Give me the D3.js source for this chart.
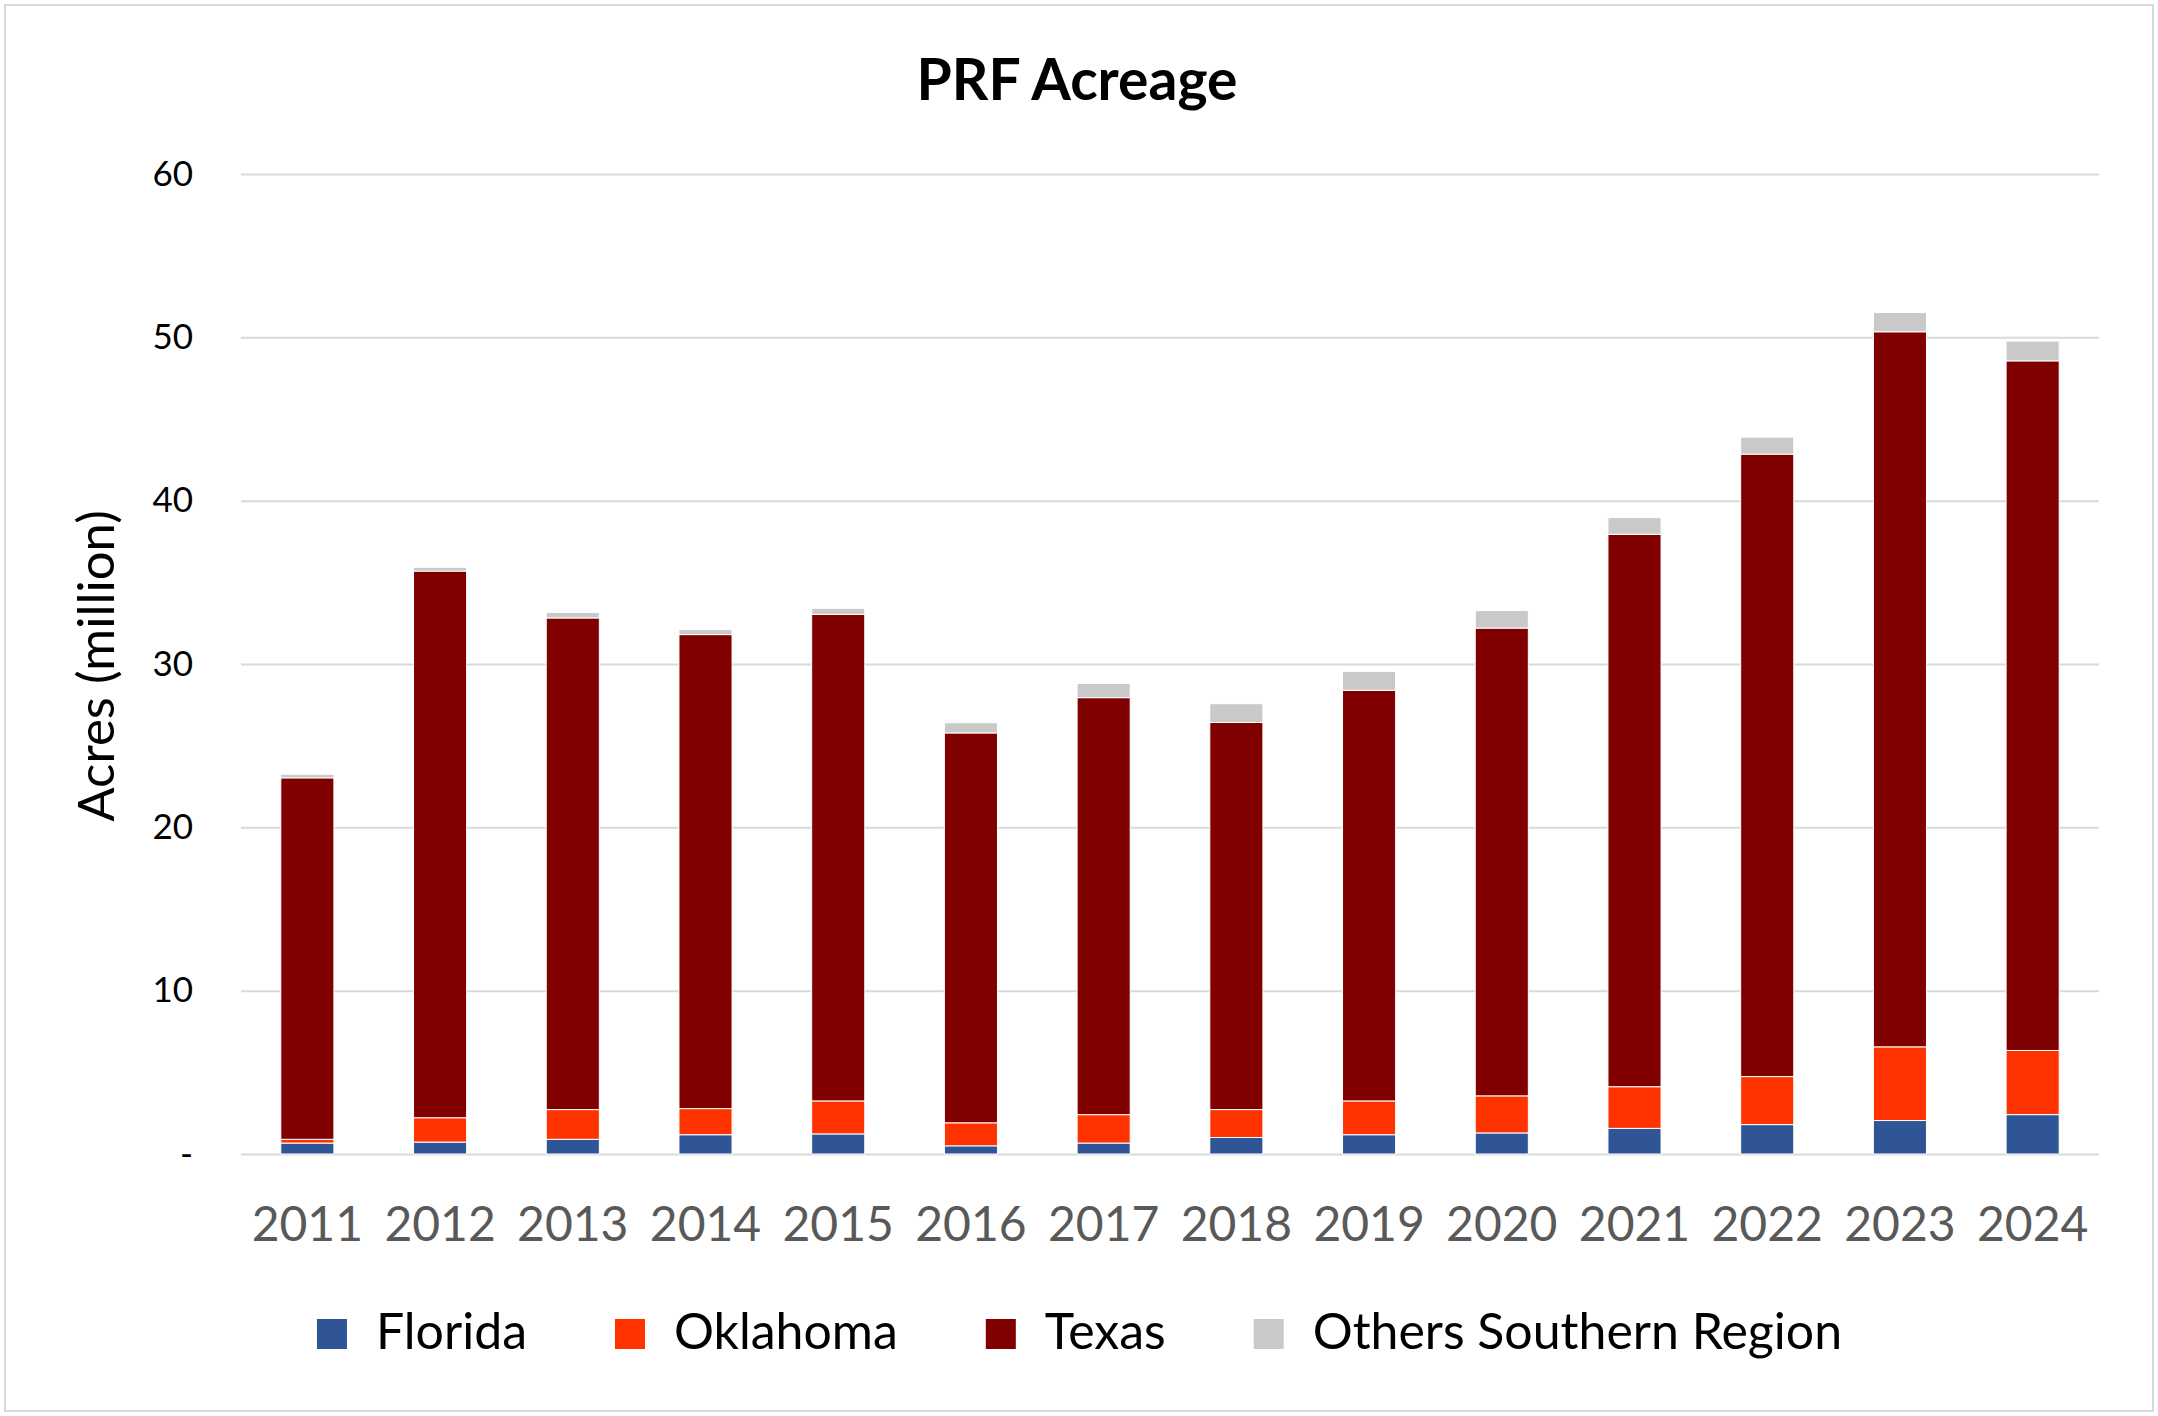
<!DOCTYPE html>
<html>
<head>
<meta charset="utf-8">
<script src="https://cdn.jsdelivr.net/npm/d3@7"></script>
<style>
  html, body { margin: 0; padding: 0; background: #fff; }
  svg { display: block; font-family: Lato, "Open Sans", sans-serif; }
</style>
</head>
<body>
<svg id="chart" width="2158" height="1416"></svg>
<script>
// PRF acreage by state, million acres
const years = ['2011', '2012', '2013', '2014', '2015', '2016', '2017', '2018', '2019', '2020', '2021', '2022', '2023', '2024'];
const florida  = [0.67, 0.73, 0.90, 1.18, 1.23, 0.50, 0.67, 1.01, 1.18, 1.29, 1.57, 1.80, 2.05, 2.41];
const oklahoma = [0.23, 1.49, 1.82, 1.60, 2.02, 1.41, 1.74, 1.71, 2.07, 2.27, 2.55, 2.94, 4.51, 3.93];
const texas    = [22.13, 33.47, 30.10, 29.02, 29.79, 23.87, 25.53, 23.70, 25.14, 28.64, 33.82, 38.11, 43.78, 42.22];
const others   = [0.22, 0.23, 0.33, 0.31, 0.37, 0.62, 0.87, 1.15, 1.16, 1.07, 1.02, 1.04, 1.18, 1.21];
const seriesNames = ['Florida', 'Oklahoma', 'Texas', 'Others Southern Region'];
const seriesColors = ['#2F5597', '#FF3300', '#800000', '#C9C9C9'];
const yTicks = [0, 10, 20, 30, 40, 50, 60];

const svg = d3.select('#chart');
const W = 2158, H = 1416;

// chart area border
svg.append('rect')
    .attr('x', 5).attr('y', 5)
    .attr('width', W - 10).attr('height', H - 10)
    .attr('fill', '#fff')
    .attr('stroke', '#d9d9d9')
    .attr('stroke-width', 2);

const plot = { left: 241, right: 2099, top: 174, bottom: 1154 };

const x = d3.scaleBand()
    .domain(years)
    .range([plot.left, plot.right])
    .paddingInner(0.6)
    .paddingOuter(0.3);

const y = d3.scaleLinear()
    .domain([0, 60])
    .range([plot.bottom, plot.top]);

// gridlines
svg.append('g')
    .attr('transform', `translate(${plot.left},0)`)
    .call(d3.axisLeft(y).tickValues(yTicks).tickSize(-(plot.right - plot.left)).tickFormat(''))
    .call(g => g.select('.domain').remove())
    .call(g => g.selectAll('line').attr('stroke', '#d9d9d9').attr('stroke-width', 2));

// y tick labels
svg.append('g')
    .attr('transform', `translate(${plot.left - 48},0)`)
    .call(d3.axisLeft(y).tickValues(yTicks).tickSize(0).tickPadding(0)
        .tickFormat(d => d === 0 ? '-' : d))
    .call(g => g.select('.domain').remove())
    .call(g => g.selectAll('text')
        .attr('fill', '#000')
        .style('font-size', '35px')
        .style('font-family', 'Lato'));

// stacked bars
const table = years.map((yr, i) => ({
    year: yr,
    'Florida': florida[i],
    'Oklahoma': oklahoma[i],
    'Texas': texas[i],
    'Others Southern Region': others[i]
}));
const stacked = d3.stack().keys(seriesNames)(table);

svg.append('g')
    .selectAll('g')
    .data(stacked)
    .join('g')
    .attr('fill', (d, i) => seriesColors[i])
    .selectAll('rect')
    .data(d => d)
    .join('rect')
    .attr('x', d => x(d.data.year))
    .attr('width', x.bandwidth())
    .attr('y', d => y(d[1]))
    .attr('height', d => y(d[0]) - y(d[1]))
    .attr('stroke', '#fff')
    .attr('stroke-width', 1);

// x labels
svg.append('g')
    .attr('transform', `translate(0,${plot.bottom})`)
    .call(d3.axisBottom(x).tickSize(0).tickPadding(0))
    .call(g => g.select('.domain').remove())
    .call(g => g.selectAll('text')
        .attr('dy', null)
        .attr('y', 87)
        .attr('fill', '#595959')
        .style('font-size', '48px')
        .style('font-family', 'Lato'));

// title
svg.append('text')
    .attr('x', 1077)
    .attr('y', 100)
    .attr('text-anchor', 'middle')
    .style('font-size', '57px')
    .style('font-weight', 'bold')
    .attr('fill', '#000')
    .text('PRF Acreage');

// y axis title
svg.append('text')
    .attr('transform', `translate(114,${(plot.top + plot.bottom) / 2 + 2}) rotate(-90)`)
    .attr('text-anchor', 'middle')
    .style('font-size', '51px')
    .attr('fill', '#000')
    .text('Acres (million)');

// legend
const legend = svg.append('g');
const sw = 30, textGap = 59, itemGap = 88;
let cursor = 0;
seriesNames.forEach((name, i) => {
    const item = legend.append('g').attr('transform', `translate(${cursor},0)`);
    item.append('rect')
        .attr('x', 0).attr('y', 1319)
        .attr('width', sw).attr('height', sw)
        .attr('fill', seriesColors[i]);
    const t = item.append('text')
        .attr('x', textGap)
        .attr('y', 1349)
        .style('font-size', '50px')
        .attr('fill', '#000')
        .text(name);
    cursor += textGap + t.node().getComputedTextLength() + itemGap;
});
const legendWidth = cursor - itemGap;
legend.attr('transform', `translate(${1079.5 - legendWidth / 2},0)`);
</script>
</body>
</html>
